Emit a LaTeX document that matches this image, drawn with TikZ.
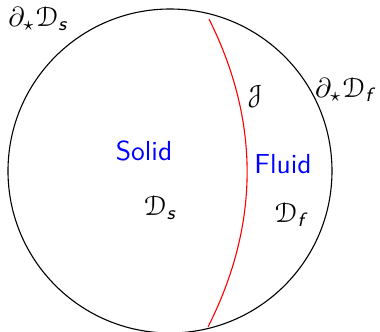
\documentclass[tikz,border=0pt]{standalone}
\usepackage{amsmath}
\usepackage{amssymb}
\usepackage[mathcal]{euscript}
\newcommand{\sfi}[1]{\text{\sffamily\slshape #1}}
\begin{document}
\begin{tikzpicture}[x=0.363pt,y=-0.363pt,font=\sffamily]
\useasboundingbox (0,0) rectangle (380,332);
\draw (170,171) circle (162);

\coordinate (top) at (209,19);
\coordinate (bot) at (208,327);
\draw[red] (top) .. controls (260,121) and (260,224) .. (bot);

\node (bds) at (38,19) {$\partial_\star\mathcal{D}_{\sfi{s}}$};
\node (bdf) at (344,90) {$\partial_\star\mathcal{D}_{\sfi{f}}$};
\node (J) at (255,97) {$\mathcal{J}$};

\node[blue] (solid) at (144,151) {Solid};
\node[blue] (fluid) at (283,164) {Fluid};

\node (ds) at (160,208) {$\mathcal{D}_{\sfi{s}}$};
\node (df) at (290,215) {$\mathcal{D}_{\sfi{f}}$};
\end{tikzpicture}
\end{document}
